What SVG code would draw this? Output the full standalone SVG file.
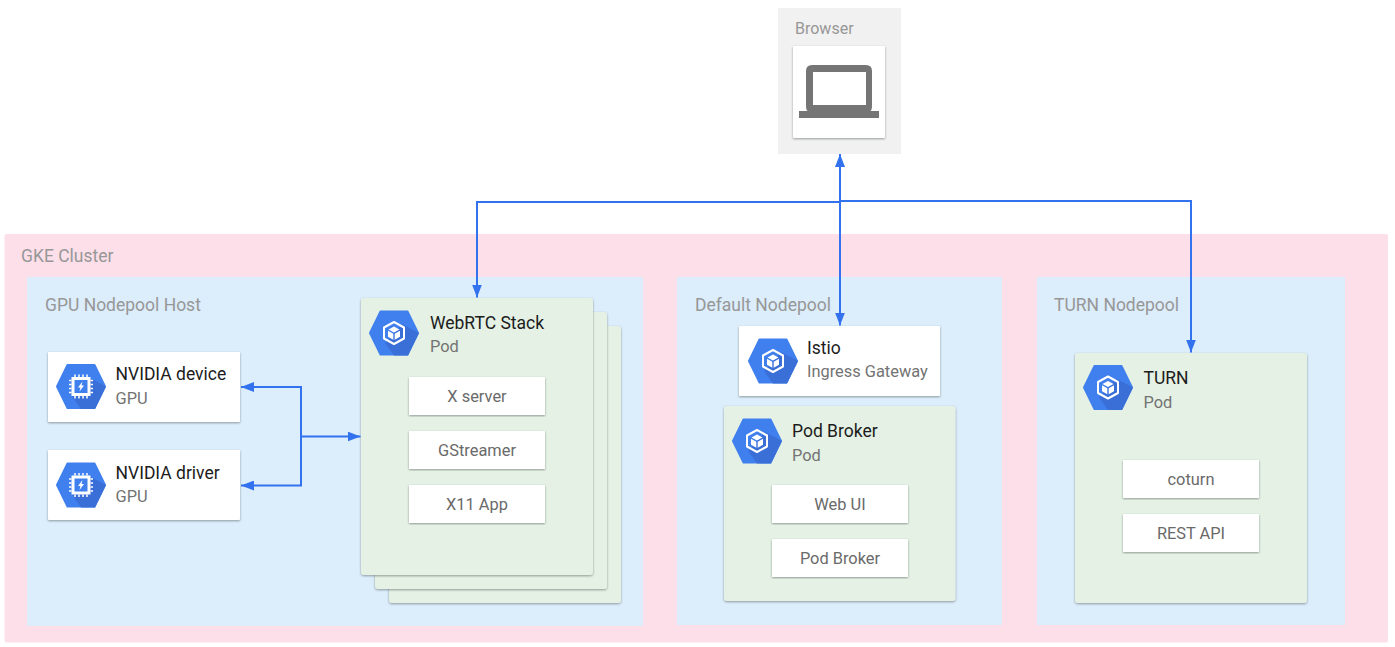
<svg xmlns="http://www.w3.org/2000/svg" xmlns:xlink="http://www.w3.org/1999/xlink" width="1395" height="647" viewBox="0 0 1395 647">
<style>
text{font-family:Roboto,"Liberation Sans",sans-serif}
.zone{font-size:17.5px;fill:#979797}
.browser{font-size:16px;fill:#979797}
.title{font-size:17.5px;fill:#1c1c1c}
.sub{font-size:16.400px;fill:#737373}
.item{font-size:16.400px;fill:#6a6a6a;text-anchor:middle}
.card{fill:#fff;filter:url(#sh)}
.pod{fill:#e4f1e4;filter:url(#sh)}
.pool{fill:#dcedfb}
.conn{fill:none;stroke:#3372ee;stroke-width:2}
</style>
<defs>
<filter id="sh" x="-5%" y="-5%" width="110%" height="110%">
<feDropShadow dx="0" dy="1" stdDeviation="0.8" flood-color="#3c4043" flood-opacity="0.5"/>
</filter>
<marker id="ah" viewBox="0 0 13 10" refX="13" refY="5" markerWidth="13" markerHeight="10" markerUnits="userSpaceOnUse" orient="auto-start-reverse">
<path d="M0 0L13 5L0 10Z" fill="#3372ee"/>
</marker>
<g id="hex">
<path d="M-24 0L-13.500 -21.500H13.500L24 0L13.500 21.500H-13.500Z" fill="#4080ee" stroke="#4080ee" stroke-width="2" stroke-linejoin="round"/>
<path d="M8 -9L25 0L14 22.500H0L-9 10Z" fill="#3a6fd8"/>
</g>
<g id="podicon">
<use xlink:href="#hex"/>
<path d="M0 -11L10 -5.500V5.500L0 11L-10 5.500V-5.500Z" fill="none" stroke="#fff" stroke-width="2" stroke-linejoin="round"/>
<path d="M0 -6.500L5.500 -3.500L0 -0.500L-5.500 -3.500Z" fill="#fff"/>
<path d="M-6 -2.300L-0.700 0.700V6.800L-6 3.700Z M6 -2.300L0.700 0.700V6.800L6 3.700Z" fill="#fff"/>
</g>
<g id="gpuicon">
<use xlink:href="#hex"/>
<path d="M-9.500 -9.500H9.500V9.500H-9.500Z" fill="#fff"/>
<path d="M-6.500 -6.500H6.500V6.500H-6.500Z" fill="#4080ee"/>
<path d="M1.500 -5L-3 1H-0.500L-1.500 5L3 -1H0.500Z" fill="#fff"/>
<path d="M-6 -12V12M-2 -12V12M2 -12V12M6 -12V12M-12 -6H12M-12 -2H12M-12 2H12M-12 6H12" stroke="#fff" stroke-width="1.500" stroke-dasharray="2.500 19" fill="none"/>
</g>
</defs>

<g id="browser">
<rect x="778" y="8" width="123" height="146" fill="#f1f1f1"/>
<text class="browser" x="795" y="34">Browser</text>
<rect class="card" x="793" y="46" width="92" height="92" rx="1"/>
<path fill-rule="evenodd" fill="#757575" d="M812 65H866Q872 65 872 71V105Q872 111 870 111H879V118H799V111H808Q806 111 806 105V71Q806 65 812 65ZM813 72V105H866V72Z"/>
</g>

<g id="gke-cluster">
<rect x="4.500" y="234" width="1383.500" height="408.500" rx="2" fill="#fcdfe9"/>
<text class="zone" x="21" y="261.500">GKE Cluster</text>
</g>

<g id="gpu-nodepool">
<rect class="pool" x="27" y="277" width="616" height="349" rx="1"/>
<text class="zone" x="45" y="310.500">GPU Nodepool Host</text>
</g>
<g id="default-nodepool">
<rect class="pool" x="677" y="277" width="325" height="348" rx="1"/>
<text class="zone" x="695" y="310.500">Default Nodepool</text>
</g>
<g id="turn-nodepool">
<rect class="pool" x="1037" y="277" width="308" height="348" rx="1"/>
<text class="zone" x="1054" y="310.500">TURN Nodepool</text>
</g>

<g id="nvidia-device">
<rect class="card" x="48" y="352" width="192" height="70" rx="1"/>
<use xlink:href="#gpuicon" x="81" y="386.500"/>
<text class="title" x="115.500" y="379.500">NVIDIA device</text>
<text class="sub" x="115.500" y="403.500">GPU</text>
</g>
<g id="nvidia-driver">
<rect class="card" x="48" y="450" width="192" height="70" rx="1"/>
<use xlink:href="#gpuicon" x="81" y="485"/>
<text class="title" x="115.500" y="478.500">NVIDIA driver</text>
<text class="sub" x="115.500" y="501.500">GPU</text>
</g>

<g id="webrtc-stack">
<rect class="pod" x="389" y="326" width="232" height="277" rx="3"/>
<rect class="pod" x="375" y="312" width="232" height="277" rx="3"/>
<rect class="pod" x="361" y="298" width="232" height="277" rx="3"/>
<use xlink:href="#podicon" x="394" y="333"/>
<text class="title" x="430" y="328.500">WebRTC Stack</text>
<text class="sub" x="430" y="352">Pod</text>
</g>
<g id="x-server">
<rect class="card" x="409" y="377" width="136" height="38"/>
<text class="item" x="477" y="402">X server</text>
</g>
<g id="gstreamer">
<rect class="card" x="409" y="431" width="136" height="38"/>
<text class="item" x="477" y="456">GStreamer</text>
</g>
<g id="x11-app">
<rect class="card" x="409" y="485" width="136" height="38"/>
<text class="item" x="477" y="510">X11 App</text>
</g>

<g id="istio">
<rect class="card" x="739" y="326" width="201" height="70" rx="1"/>
<use xlink:href="#podicon" x="773" y="361"/>
<text class="title" x="807" y="353.500">Istio</text>
<text class="sub" x="807" y="377">Ingress Gateway</text>
</g>
<g id="pod-broker">
<rect class="pod" x="724" y="406" width="231.500" height="195" rx="3"/>
<use xlink:href="#podicon" x="757" y="441"/>
<text class="title" x="792" y="436.500">Pod Broker</text>
<text class="sub" x="792" y="460.500">Pod</text>
</g>
<g id="web-ui">
<rect class="card" x="772" y="485" width="136" height="38"/>
<text class="item" x="840" y="510">Web UI</text>
</g>
<g id="pod-broker-item">
<rect class="card" x="772" y="539" width="136" height="38"/>
<text class="item" x="840" y="564">Pod Broker</text>
</g>

<g id="turn">
<rect class="pod" x="1075" y="353" width="232" height="250" rx="3"/>
<use xlink:href="#podicon" x="1108" y="387.500"/>
<text class="title" x="1143.500" y="383.500">TURN</text>
<text class="sub" x="1143.500" y="407.500">Pod</text>
</g>
<g id="coturn">
<rect class="card" x="1123" y="460" width="136" height="38"/>
<text class="item" x="1191" y="485">coturn</text>
</g>
<g id="rest-api">
<rect class="card" x="1123" y="514" width="136" height="38"/>
<text class="item" x="1191" y="539">REST API</text>
</g>

<g id="connectors">
<path class="conn" d="M840 154V325.500" marker-start="url(#ah)" marker-end="url(#ah)"/>
<path class="conn" d="M840 202H477V297.500" marker-end="url(#ah)"/>
<path class="conn" d="M840 201H1191V352.500" marker-end="url(#ah)"/>
<path class="conn" d="M241 387H301V485.500H241" marker-start="url(#ah)" marker-end="url(#ah)"/>
<path class="conn" d="M301 436.500H360.500" marker-end="url(#ah)"/>
</g>
</svg>
